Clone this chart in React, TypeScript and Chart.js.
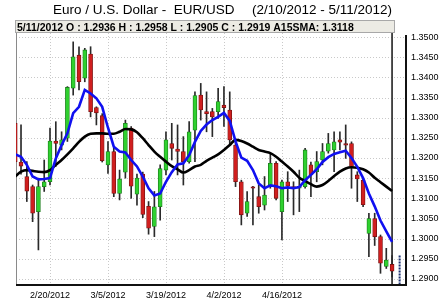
import React, { useEffect, useRef } from 'react';
import { Chart, registerables } from 'chart.js';
Chart.register(...registerables);

// ---- data (index 0 = 2/10/2012 ... index 65 = 5/11/2012, trading days) ----
const opens = [
  1.3286, 1.3190, 1.3154, 1.3129, 1.3067, 1.3129, 1.3141, 1.3242, 1.3232, 1.3249,
  1.3373, 1.3455, 1.3398, 1.3458, 1.3325, 1.3305, 1.3183, 1.3216, 1.3112, 1.3165,
  1.3274, 1.3110, 1.3160, 1.3080, 1.3030, 1.3079, 1.3170, 1.3236, 1.3222, 1.3216,
  1.3191, 1.3269, 1.3356, 1.3315, 1.3315, 1.3315, 1.3331, 1.3319, 1.3232, 1.3141,
  1.3063, 1.3127, 1.3104, 1.3083, 1.3129, 1.3187, 1.3067, 1.3141, 1.3129, 1.3125,
  1.3129, 1.3183, 1.3166, 1.3195, 1.3217, 1.3220, 1.3245, 1.3236, 1.3236, 1.3158,
  1.3145, 1.3013, 1.3050, 1.3005, 1.2931, 1.2936,
];
const highs = [
  1.3292, 1.3282, 1.3191, 1.3133, 1.3150, 1.3195, 1.3274, 1.3290, 1.3265, 1.3377,
  1.3488, 1.3476, 1.3472, 1.3476, 1.3327, 1.3310, 1.3241, 1.3224, 1.3170, 1.3294,
  1.3278, 1.3160, 1.3165, 1.3092, 1.3117, 1.3183, 1.3265, 1.3286, 1.3282, 1.3253,
  1.3290, 1.3364, 1.3385, 1.3364, 1.3323, 1.3373, 1.3377, 1.3364, 1.3240, 1.3145,
  1.3117, 1.3130, 1.3133, 1.3154, 1.3212, 1.3191, 1.3145, 1.3166, 1.3141, 1.3170,
  1.3224, 1.3190, 1.3216, 1.3236, 1.3261, 1.3265, 1.3265, 1.3282, 1.3240, 1.3166,
  1.3150, 1.3063, 1.3063, 1.3009, 1.2976, 1.2958,
];
const lows = [
  1.3187, 1.3160, 1.3092, 1.3042, 1.2972, 1.3117, 1.3133, 1.3179, 1.3220, 1.3241,
  1.3356, 1.3369, 1.3389, 1.3302, 1.3282, 1.3190, 1.3162, 1.3104, 1.3096, 1.3150,
  1.3100, 1.3083, 1.3052, 1.3011, 1.3005, 1.3046, 1.3158, 1.3195, 1.3158, 1.3133,
  1.3187, 1.3191, 1.3294, 1.3265, 1.3253, 1.3298, 1.3278, 1.3232, 1.3129, 1.3034,
  1.3055, 1.3034, 1.3063, 1.3071, 1.3125, 1.3096, 1.2997, 1.3092, 1.3059, 1.3067,
  1.3125, 1.3104, 1.3141, 1.3183, 1.3212, 1.3166, 1.3220, 1.3199, 1.3125, 1.3092,
  1.3079, 1.2955, 1.2983, 1.2914, 1.2926, 1.2905,
];
const closes = [
  1.3191, 1.3180, 1.3118, 1.3063, 1.3129, 1.3141, 1.3242, 1.3236, 1.3245, 1.3375,
  1.3451, 1.3389, 1.3468, 1.3315, 1.3312, 1.3193, 1.3216, 1.3112, 1.3148, 1.3286,
  1.3130, 1.3150, 1.3060, 1.3026, 1.3079, 1.3174, 1.3245, 1.3224, 1.3216, 1.3191,
  1.3265, 1.3355, 1.3319, 1.3310, 1.3302, 1.3340, 1.3325, 1.3245, 1.3141, 1.3059,
  1.3092, 1.3125, 1.3079, 1.3108, 1.3187, 1.3100, 1.3141, 1.3130, 1.3125, 1.3130,
  1.3220, 1.3158, 1.3191, 1.3216, 1.3236, 1.3240, 1.3239, 1.3232, 1.3179, 1.3148,
  1.3084, 1.3050, 1.3005, 1.2939, 1.2947, 1.2919,
];
// 15-period simple moving average (black)
const sma15 = [
  1.3154, 1.3166, 1.3170, 1.3168, 1.3166, 1.3165, 1.3170, 1.3183, 1.3195, 1.3209,
  1.3224, 1.3240, 1.3253, 1.3260, 1.3261, 1.3261, 1.3260, 1.3260, 1.3265, 1.3272,
  1.3271, 1.3264, 1.3249, 1.3232, 1.3216, 1.3203, 1.3191, 1.3180, 1.3172, 1.3164,
  1.3170, 1.3179, 1.3183, 1.3193, 1.3201, 1.3209, 1.3220, 1.3232, 1.3245, 1.3242,
  1.3236, 1.3228, 1.3220, 1.3216, 1.3212, 1.3203, 1.3191, 1.3179, 1.3166, 1.3151,
  1.3143, 1.3135, 1.3129, 1.3133, 1.3143, 1.3155, 1.3166, 1.3174, 1.3177, 1.3176,
  1.3172, 1.3164, 1.3151, 1.3140, 1.3129, 1.3118,
];
// short moving average (blue)
const smaFast = [
  1.3209, 1.3203, 1.3183, 1.3154, 1.3147, 1.3148, 1.3150, 1.3199, 1.3232, 1.3261,
  1.3311, 1.3327, 1.3369, 1.3360, 1.3348, 1.3327, 1.3275, 1.3228, 1.3216, 1.3214,
  1.3195, 1.3179, 1.3154, 1.3125, 1.3107, 1.3112, 1.3141, 1.3165, 1.3184, 1.3187,
  1.3207, 1.3240, 1.3267, 1.3283, 1.3294, 1.3302, 1.3312, 1.3292, 1.3241, 1.3201,
  1.3193, 1.3170, 1.3137, 1.3125, 1.3132, 1.3130, 1.3125, 1.3127, 1.3125, 1.3128,
  1.3145, 1.3158, 1.3172, 1.3190, 1.3202, 1.3210, 1.3214, 1.3218, 1.3200, 1.3178,
  1.3150, 1.3112, 1.3080, 1.3045, 1.3018, 1.2992,
];

const xTickIndex = [6, 16, 26, 36, 46];
const xTickLabels = ['2/20/2012', '3/5/2012', '3/19/2012', '4/2/2012', '4/16/2012'];
const yTickValues = [1.29, 1.295, 1.3, 1.305, 1.31, 1.315, 1.32, 1.325, 1.33, 1.335, 1.34, 1.345, 1.35];
const yTickLabels = ['1.2900', '1.2950', '1.3000', '1.3050', '1.3100', '1.3150', '1.3200', '1.3250', '1.3300', '1.3350', '1.3400', '1.3450', '1.3500'];

const titleLeft = 'Euro / U.S. Dollar -  EUR/USD';
const titleRight = '(2/10/2012 - 5/11/2012)';
const infoText = '5/11/2012 O : 1.2936 H : 1.2958 L : 1.2905 C : 1.2919 A15SMA: 1.3118';

const cursorIndex = 65;
const markerIndex = 66.3;

const FONT = '"Liberation Sans", Arial, sans-serif';

export default function App() {
  const ref = useRef<HTMLCanvasElement | null>(null);

  useEffect(() => {
    if (!ref.current) return;
    const yMin = 1.2885;
    const yMax = 1.351;

    const isUp = closes.map((c, i) => c >= opens[i]);
    const bodyFill = isUp.map((u) => (u ? '#2fd12f' : '#d01f1f'));
    const bodyEdge = isUp.map((u) => (u ? '#1b7d1b' : '#7a1212'));

    const decor = {
      id: 'decor',
      beforeDraw(chart: any) {
        const c = chart.ctx;
        c.save();
        c.fillStyle = '#ffffff';
        c.fillRect(0, 0, chart.width, chart.height);
        c.restore();
      },
      beforeDatasetsDraw(chart: any) {
        const c = chart.ctx;
        const a = chart.chartArea;
        const xs = chart.scales.x;
        const ys = chart.scales.y;
        c.save();
        c.strokeStyle = '#c9c9c9';
        c.lineWidth = 1;
        c.setLineDash([1, 2]);
        yTickValues.forEach((v) => {
          const y = Math.round(ys.getPixelForValue(v)) + 0.5;
          c.beginPath();
          c.moveTo(a.left, y);
          c.lineTo(a.right, y);
          c.stroke();
        });
        xTickIndex.forEach((v) => {
          const x = Math.round(xs.getPixelForValue(v)) + 0.5;
          c.beginPath();
          c.moveTo(x, a.top);
          c.lineTo(x, a.bottom);
          c.stroke();
        });
        c.setLineDash([]);
        c.strokeStyle = '#8a8a8a';
        c.beginPath();
        c.moveTo(a.left + 0.5, a.top);
        c.lineTo(a.left + 0.5, a.bottom);
        c.stroke();
        c.restore();
      },
      afterDatasetsDraw(chart: any) {
        const c = chart.ctx;
        const a = chart.chartArea;
        const ys = chart.scales.y;
        c.save();
        c.strokeStyle = '#111';
        c.lineWidth = 2;
        c.beginPath();
        c.moveTo(a.left, a.bottom);
        c.lineTo(a.right + 1, a.bottom);
        c.stroke();
        c.beginPath();
        c.moveTo(a.right, ys.getPixelForValue(1.3505));
        c.lineTo(a.right, a.bottom);
        c.stroke();
        c.restore();
      },
      afterDraw(chart: any) {
        const c = chart.ctx;
        c.save();
        // title
        c.fillStyle = '#000';
        c.font = '13.5px ' + FONT;
        c.textBaseline = 'alphabetic';
        c.textAlign = 'left';
        c.fillText(titleLeft, 53, 14);
        c.fillText(titleRight, 252, 14);
        // info bar
        c.fillStyle = '#ecebe4';
        c.fillRect(15, 20, 380, 13);
        c.strokeStyle = '#a8a8a8';
        c.lineWidth = 1;
        c.strokeRect(15.5, 20.5, 379, 12);
        c.fillStyle = '#000';
        c.font = 'bold 10.5px ' + FONT;
        c.fillText(infoText, 17, 31);
        c.restore();
      },
    };

    const pts = (arr: number[]) => arr.map((v, i) => ({ x: i, y: v }));

    const chart = new Chart(ref.current, {
      type: 'bar',
      data: {
        datasets: [
          {
            type: 'line',
            label: 'fast',
            data: pts(smaFast),
            borderColor: '#1010f0',
            borderWidth: 2.6,
            pointRadius: 0,
            tension: 0,
            order: 0,
          } as any,
          {
            type: 'line',
            label: 'A15SMA',
            data: pts(sma15),
            borderColor: '#000000',
            borderWidth: 2.6,
            pointRadius: 0,
            cubicInterpolationMode: 'monotone',
            order: 0,
          } as any,
          {
            type: 'line',
            label: 'marker',
            data: [
              { x: markerIndex, y: highs[65] },
              { x: markerIndex, y: yMin },
            ],
            borderColor: '#1d3170',
            borderWidth: 2,
            borderDash: [2, 1],
            pointRadius: 0,
            order: 0,
          } as any,
          {
            type: 'bar',
            label: 'body',
            data: opens.map((o, i) => ({ x: i, y: [o, closes[i]] })),
            backgroundColor: bodyFill,
            borderColor: bodyEdge,
            borderWidth: 0.8,
            borderSkipped: false,
            barThickness: 4,
            minBarLength: 1.5,
            grouped: false,
            order: 1,
          } as any,
          {
            type: 'bar',
            label: 'wick',
            data: highs.map((h, i) => ({ x: i, y: [lows[i], h] })),
            backgroundColor: '#2a2a2a',
            barThickness: 1,
            grouped: false,
            order: 2,
          } as any,
          {
            type: 'line',
            label: 'cursor',
            data: [
              { x: cursorIndex, y: yMax },
              { x: cursorIndex, y: yMin },
            ],
            borderColor: '#333',
            borderWidth: 1,
            pointRadius: 0,
            order: 3,
          } as any,
        ],
      },
      options: {
        animation: false,
        responsive: false,
        events: [],
        layout: { padding: { left: 16, top: 33, right: 0, bottom: 0 } },
        plugins: {
          legend: { display: false },
          title: { display: false },
          tooltip: { enabled: false },
        },
        scales: {
          x: {
            type: 'linear',
            offset: false,
            min: 0.135,
            max: 67.4,
            grid: { display: false, drawTicks: false, tickLength: 0, offset: false },
            border: { display: false },
            afterBuildTicks: (s: any) => {
              s.ticks = xTickIndex.map((v) => ({ value: v }));
            },
            afterFit: (s: any) => {
              s.height = 15;
            },
            ticks: {
              autoSkip: false,
              maxRotation: 0,
              padding: 5,
              color: '#000',
              font: { size: 9, family: FONT },
              callback: (_v: any, i: number) => xTickLabels[i],
            },
          },
          y: {
            type: 'linear',
            position: 'right',
            min: yMin,
            max: yMax,
            grid: { display: false, drawTicks: false, tickLength: 0 },
            border: { display: false },
            afterBuildTicks: (s: any) => {
              s.ticks = yTickValues.map((v) => ({ value: v }));
            },
            afterFit: (s: any) => {
              s.width = 33;
            },
            ticks: {
              padding: 5,
              color: '#000',
              font: { size: 9, family: FONT },
              callback: (_v: any, i: number) => yTickLabels[i],
            },
          },
        },
      } as any,
      plugins: [decor],
    });
    return () => chart.destroy();
  }, []);

  return (
    <div style={{ position: 'absolute', left: 0, top: 0, width: 439, height: 300, background: '#fff' }}>
      <canvas ref={ref} width={439} height={300} style={{ display: 'block' }} />
    </div>
  );
}
